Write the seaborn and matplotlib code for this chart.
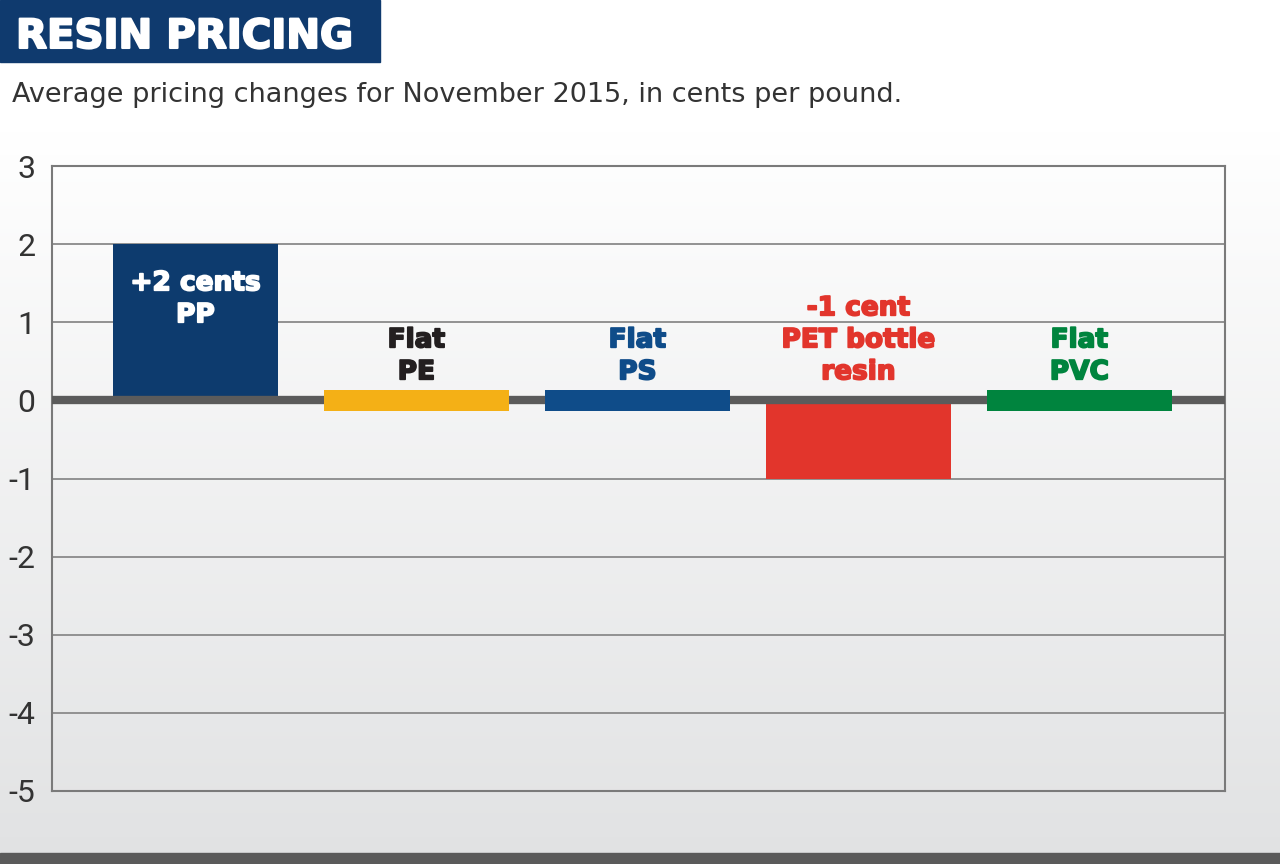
import numpy as np
import pandas as pd
import matplotlib
matplotlib.use("Agg")
import matplotlib.pyplot as plt
import matplotlib.patheffects as pe
import seaborn as sns
from matplotlib.colors import LinearSegmentedColormap
from matplotlib.patches import Rectangle

# ---- data ----
resins = ["PP", "PE", "PS", "PET bottle resin", "PVC"]
changes = [2, 0, 0, -1, 0]
bar_labels = ["+2 cents\nPP", "Flat\nPE", "Flat\nPS", "-1 cent\nPET bottle\nresin", "Flat\nPVC"]
yticks = [3, 2, 1, 0, -1, -2, -3, -4, -5]
title = "RESIN PRICING"
subtitle = "Average pricing changes for November 2015, in cents per pound."

# ---- styles ----
bar_colors = ["#0d3b6e", "#f4b016", "#0f4c89", "#e2352c", "#00843e"]
label_colors = ["#ffffff", "#231f20", "#0f4c89", "#e2352c", "#00843e"]
FLAT_HALF = 0.13

sns.set_theme(style="white")
plt.rcParams['font.family'] = ['DejaVu Sans']

W, H = 1280, 864
fig = plt.figure(figsize=(W / 100, H / 100), dpi=100)

# background gradient
bg = fig.add_axes([0, 0, 1, 1], zorder=-10)
grad = np.linspace(0, 1, 256).reshape(-1, 1)
cmap = LinearSegmentedColormap.from_list("bg", [(0, "#ffffff"), (0.15, "#ffffff"), (1, "#e1e2e3")])
bg.imshow(grad, aspect="auto", cmap=cmap, extent=[0, 1, 0, 1], origin="upper")
bg.axis("off")

# main axes
ax = fig.add_axes([52 / W, (H - 791) / H, 1173 / W, 625 / H])
ax.set_facecolor("none")
df = pd.DataFrame({"resin": resins, "change": changes})
sns.barplot(data=df, x="resin", y="change", hue="resin", palette=bar_colors,
            width=0.84, legend=False, ax=ax, saturation=1, zorder=2)

for i, cont in enumerate(ax.containers):
    for p in cont.patches:
        p.set_edgecolor("none")
        if changes[i] == 0:
            p.set_y(-FLAT_HALF)
            p.set_height(2 * FLAT_HALF)
            p.set_zorder(4)
        if i == 0:
            cx = p.get_x() + p.get_width() / 2
            p.set_width(0.75)
            p.set_x(cx - 0.375)

ax.axhline(0, color="#5b5b5b", lw=6, zorder=3)

ax.set_xlim(-0.649, 4.659)
ax.set_ylim(-5, 3)
ax.set_yticks(yticks)
ax.set_yticklabels([str(t) for t in yticks])
ax.set_xticks([])
ax.set_xlabel("")
ax.set_ylabel("")
ax.yaxis.grid(True, color="#8a8a8a", lw=1.3)
ax.set_axisbelow(True)
ax.tick_params(axis="y", length=0, pad=12, labelsize=23, labelcolor="#333333")
for lbl in ax.get_yticklabels():
    lbl.set_family("Roboto")
for s in ax.spines.values():
    s.set_visible(True)
    s.set_color("#7a7a7a")
    s.set_linewidth(1.5)

for i, (lab, v) in enumerate(zip(bar_labels, changes)):
    y = v / 2 if v > 0 else 0.27
    ax.text(i, y, lab, ha="center", va="baseline", color=label_colors[i],
            fontsize=19, fontweight="bold", linespacing=1.3, zorder=5,
            path_effects=[pe.withStroke(linewidth=1.3, foreground=label_colors[i])])

# title box
fig.patches.append(Rectangle((0, 1 - 62 / H), 380 / W, 62 / H, transform=fig.transFigure,
                             color="#0f3a6e", zorder=1))
fig.text(16 / W, 1 - 48 / H, title, color="white", fontsize=29, fontweight="bold",
         va="baseline", ha="left", zorder=2,
         path_effects=[pe.withStroke(linewidth=1.5, foreground="white")])
fig.text(12 / W, 1 - 102 / H, subtitle, color="#333333", fontsize=19.5,
         va="baseline", ha="left")

# bottom bar
fig.patches.append(Rectangle((0, 0), 1, 11 / H, transform=fig.transFigure,
                             color="#5a5a5a", zorder=1))

fig.savefig("out.png", dpi=100)
